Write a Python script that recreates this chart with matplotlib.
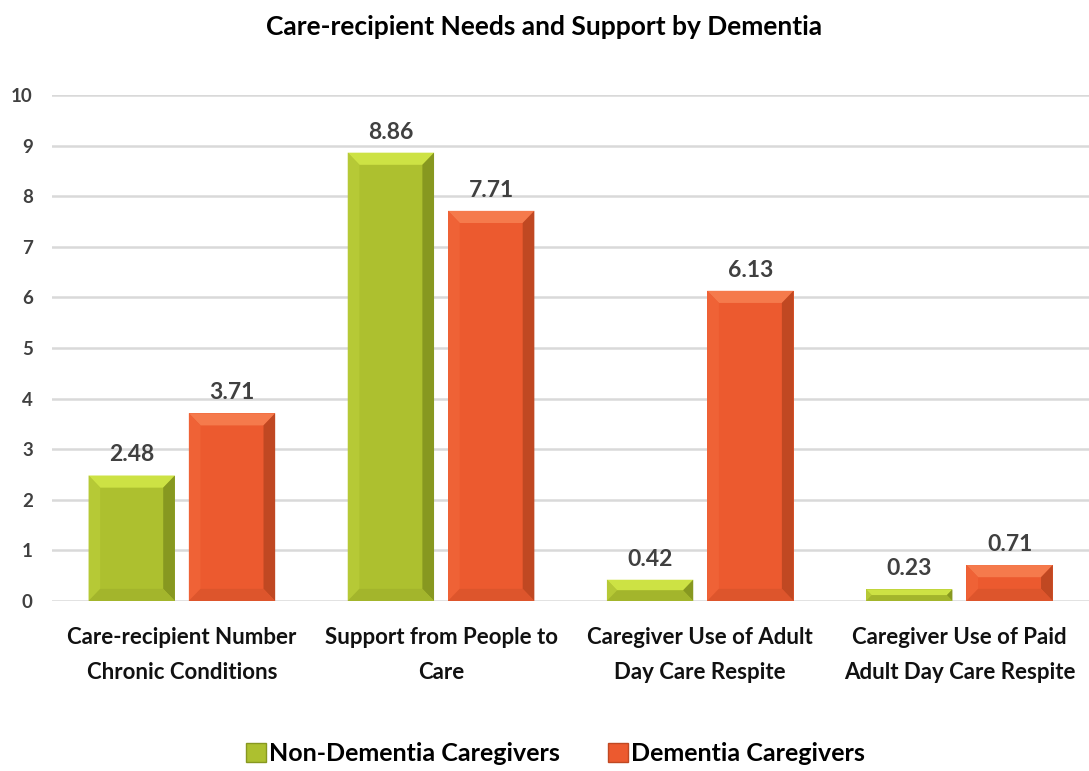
import numpy as np
import matplotlib.pyplot as plt
from matplotlib.patches import Polygon, Patch

plt.rcParams['font.family'] = ['Lato', 'DejaVu Sans']

categories = ['Care-recipient Number\nChronic Conditions',
              'Support from People to\nCare',
              'Caregiver Use of Adult\nDay Care Respite',
              'Caregiver Use of Paid\nAdult Day Care Respite']
non_dementia = [2.48, 8.86, 0.42, 0.23]
dementia = [3.71, 7.71, 6.13, 0.71]
series_names = ['Non-Dementia Caregivers', 'Dementia Caregivers']

# main, top, left, right, bottom shades
green = ['#adc02f', '#cde244', '#b6c936', '#879820', '#a3b52c']
orange = ['#ec5a2f', '#f57a4c', '#ef6236', '#c04822', '#dd552c']


def bevel(ax, bars, shades, dx=0.045, dy=0.24):
    for b in bars:
        x0, y0 = b.get_x(), b.get_y()
        w, h = b.get_width(), b.get_height()
        x1, y1 = x0 + w, y0 + h
        d = min(dy, h / 2)
        ex = dx * d / dy
        ix0, ix1, iy0, iy1 = x0 + ex, x1 - ex, y0 + d, y1 - d
        faces = [
            ([(x0, y1), (x1, y1), (ix1, iy1), (ix0, iy1)], shades[1]),
            ([(x0, y0), (x0, y1), (ix0, iy1), (ix0, iy0)], shades[2]),
            ([(x1, y0), (x1, y1), (ix1, iy1), (ix1, iy0)], shades[3]),
            ([(x0, y0), (x1, y0), (ix1, iy0), (ix0, iy0)], shades[4]),
        ]
        for pts, c in faces:
            ax.add_patch(Polygon(pts, closed=True, facecolor=c,
                                 edgecolor='none', zorder=3))


fig = plt.figure(figsize=(10.89, 7.71), dpi=100)
ax = fig.add_axes([0.048, 0.2205, 0.952, 0.6563])

x = np.arange(len(categories))
w = 0.333
gap = 0.027
b1 = ax.bar(x - w / 2 - gap, non_dementia, w, color=green[0], zorder=2)
b2 = ax.bar(x + w / 2 + gap, dementia, w, color=orange[0], zorder=2)
bevel(ax, b1, green)
bevel(ax, b2, orange)

for bars, vals in ((b1, non_dementia), (b2, dementia)):
    for b, v in zip(bars, vals):
        ax.text(b.get_x() + b.get_width() / 2, v + 0.2, f'{v:.2f}',
                ha='center', va='bottom', fontsize=16.5, fontweight='bold',
                color='#404040')

ax.set_xlim(-0.5, 3.5)
ax.set_ylim(0, 10)
ax.set_yticks(range(0, 11))
ax.yaxis.grid(True, color='#d9d9d9', linewidth=1.8)
ax.set_axisbelow(True)
for s in ax.spines.values():
    s.set_visible(False)
ax.tick_params(axis='y', length=0, pad=14, labelsize=13.5, labelcolor='#404040')
ax.tick_params(axis='x', length=0, pad=19, labelsize=16)
ax.set_xticks(x)
ax.set_xticklabels(categories, fontweight='bold', color='#111111',
                   linespacing=1.8)
for t in ax.get_yticklabels():
    t.set_fontweight('bold')

fig.text(0.5, 0.965, 'Care-recipient Needs and Support by Dementia',
         ha='center', va='center', fontsize=19, fontweight='bold',
         color='#000000')

handles = [Patch(facecolor=green[0], edgecolor=green[3]),
           Patch(facecolor=orange[0], edgecolor=orange[3])]
fig.legend(handles, series_names, loc='center', bbox_to_anchor=(0.51, 0.023),
           ncol=2, frameon=False, handlelength=0.8, handleheight=0.8,
           handletextpad=0.15, columnspacing=1.9,
           prop={'weight': 'bold', 'size': 18})

fig.savefig('out.png', dpi=100)
